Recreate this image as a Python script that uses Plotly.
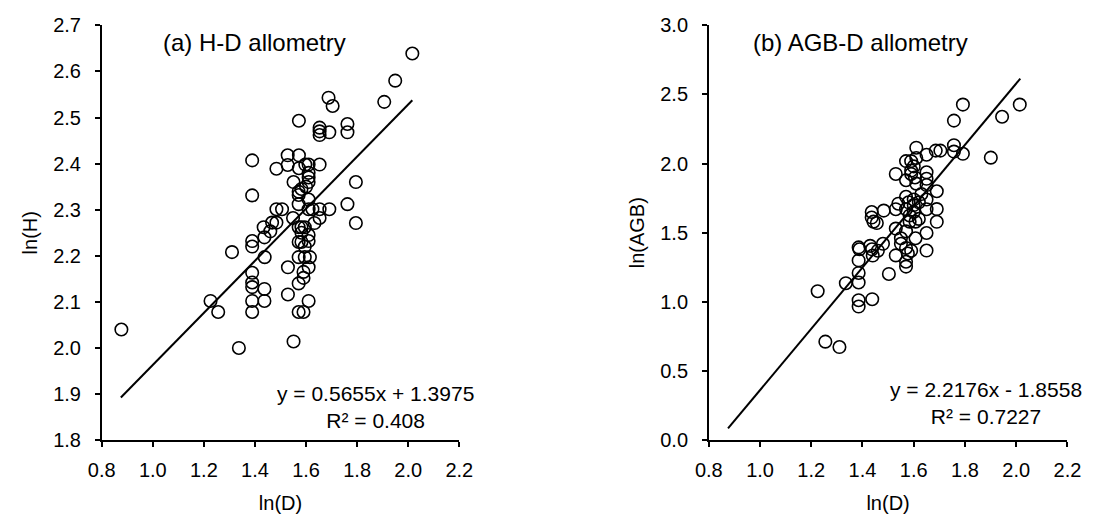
import plotly.graph_objects as go

# Panel (a): ln(D) vs ln(H)
lnD_a = [0.877, 2.016, 1.949, 1.906, 1.688, 1.704, 1.572, 1.653, 1.653, 1.653,
         1.691, 1.762, 1.762, 1.389, 1.528, 1.572, 1.528, 1.484, 1.597, 1.610,
         1.653, 1.572, 1.389, 1.551, 1.610, 1.610, 1.610, 1.600, 1.795, 1.571,
         1.571, 1.571, 1.582, 1.610, 1.484, 1.506, 1.610, 1.653, 1.691, 1.625,
         1.762, 1.795, 1.549, 1.653, 1.633, 1.434, 1.467, 1.484, 1.460, 1.437,
         1.389, 1.389, 1.310, 1.438, 1.571, 1.582, 1.595, 1.582, 1.571, 1.582,
         1.610, 1.610, 1.595, 1.571, 1.595, 1.615, 1.610, 1.590, 1.590, 1.571,
         1.529, 1.389, 1.389, 1.389, 1.437, 1.389, 1.437, 1.389, 1.529, 1.610,
         1.571, 1.590, 1.226, 1.256, 1.337, 1.551]
lnH_a = [2.040, 2.639, 2.580, 2.534, 2.543, 2.525, 2.493, 2.478, 2.470, 2.462,
         2.468, 2.486, 2.468, 2.407, 2.418, 2.418, 2.397, 2.389, 2.398, 2.398,
         2.398, 2.390, 2.331, 2.360, 2.380, 2.370, 2.360, 2.350, 2.360, 2.339,
         2.332, 2.312, 2.345, 2.322, 2.301, 2.301, 2.301, 2.301, 2.301, 2.301,
         2.312, 2.271, 2.282, 2.282, 2.271, 2.262, 2.272, 2.272, 2.253, 2.240,
         2.232, 2.220, 2.208, 2.197, 2.262, 2.262, 2.262, 2.250, 2.230, 2.230,
         2.232, 2.245, 2.220, 2.197, 2.197, 2.197, 2.175, 2.165, 2.152, 2.140,
         2.175, 2.163, 2.142, 2.132, 2.128, 2.102, 2.102, 2.078, 2.116, 2.102,
         2.078, 2.078, 2.102, 2.078, 2.000, 2.014]

# Panel (b): ln(D) vs ln(AGB)
lnD_b = [2.014, 1.945, 1.901, 1.792, 1.757, 1.757, 1.757, 1.792, 1.686, 1.704,
         1.610, 1.650, 1.610, 1.570, 1.590, 1.530, 1.570, 1.590, 1.590, 1.605,
         1.610, 1.600, 1.650, 1.650, 1.650, 1.690, 1.630, 1.690, 1.690, 1.650,
         1.650, 1.650, 1.650, 1.483, 1.436, 1.436, 1.443, 1.456, 1.530, 1.540,
         1.530, 1.570, 1.570, 1.584, 1.584, 1.570, 1.600, 1.600, 1.600, 1.607,
         1.607, 1.580, 1.620, 1.620, 1.550, 1.550, 1.570, 1.577, 1.570, 1.570,
         1.590, 1.530, 1.503, 1.385, 1.388, 1.385, 1.430, 1.437, 1.480, 1.460,
         1.440, 1.385, 1.385, 1.335, 1.385, 1.385, 1.438, 1.225, 1.255, 1.310]
lnAGB_b = [2.427, 2.339, 2.043, 2.427, 2.311, 2.133, 2.087, 2.071, 2.094, 2.094,
           2.115, 2.064, 2.041, 2.018, 2.018, 1.925, 1.880, 1.950, 1.925, 1.900,
           1.855, 1.980, 1.937, 1.890, 1.845, 1.800, 1.780, 1.671, 1.579, 1.670,
           1.740, 1.498, 1.371, 1.660, 1.650, 1.610, 1.580, 1.570, 1.670, 1.710,
           1.530, 1.760, 1.670, 1.625, 1.580, 1.510, 1.740, 1.700, 1.650, 1.580,
           1.460, 1.720, 1.720, 1.600, 1.460, 1.420, 1.390, 1.350, 1.290, 1.255,
           1.370, 1.336, 1.202, 1.394, 1.380, 1.300, 1.405, 1.380, 1.420, 1.370,
           1.335, 1.209, 1.140, 1.135, 1.012, 0.966, 1.019, 1.077, 0.712, 0.673]

# Fitted trend lines (from the chart's equations)
fit_a = (0.5655, 1.3975)
fit_b = (2.2176, -1.8558)
fit_x = [0.875, 2.016]

ticks_a_y = [1.8, 1.9, 2.0, 2.1, 2.2, 2.3, 2.4, 2.5, 2.6, 2.7]
ticks_b_y = [0.0, 0.5, 1.0, 1.5, 2.0, 2.5, 3.0]
ticks_x = [0.8, 1.0, 1.2, 1.4, 1.6, 1.8, 2.0, 2.2]

FONT = "Arial, Liberation Sans, sans-serif"
FS = 20
marker = dict(symbol="circle-open", size=12.5, color="black", line=dict(width=1.6, color="black"))

fig = go.Figure()
fig.add_trace(go.Scatter(x=lnD_a, y=lnH_a, mode="markers", marker=marker,
                         xaxis="x", yaxis="y", showlegend=False))
fig.add_trace(go.Scatter(x=fit_x, y=[fit_a[0] * v + fit_a[1] for v in fit_x], mode="lines",
                         line=dict(color="black", width=2), xaxis="x", yaxis="y", showlegend=False))
fig.add_trace(go.Scatter(x=lnD_b, y=lnAGB_b, mode="markers", marker=marker,
                         xaxis="x2", yaxis="y2", showlegend=False))
fig.add_trace(go.Scatter(x=fit_x, y=[fit_b[0] * v + fit_b[1] for v in fit_x], mode="lines",
                         line=dict(color="black", width=2), xaxis="x2", yaxis="y2", showlegend=False))

W, H = 1097, 529
ydom = [1 - 447.7 / H, 1 - 15 / H]
common_x = dict(range=[0.8, 2.2], tickvals=ticks_x, ticktext=[f"{v:.1f}" for v in ticks_x],
                showline=True, linecolor="black", linewidth=1.5, ticks="outside", ticklen=5,
                tickcolor="black", tickwidth=1.5, showgrid=False, zeroline=False,
                ticklabelstandoff=6,
                tickfont=dict(family=FONT, size=FS, color="black"),
                title=dict(text="ln(D)", font=dict(family=FONT, size=FS, color="black"), standoff=16))
common_y = dict(showline=True, linecolor="black", linewidth=1.5, ticks="outside", ticklen=5,
                tickcolor="black", tickwidth=1.5, showgrid=False, zeroline=False,
                ticklabelstandoff=10,
                tickfont=dict(family=FONT, size=FS, color="black"))

fig.update_layout(
    width=W, height=H, margin=dict(l=0, r=0, t=0, b=0),
    paper_bgcolor="white", plot_bgcolor="white",
    xaxis=dict(domain=[90 / W, 457 / W], anchor="y", **common_x),
    yaxis=dict(domain=ydom, anchor="x", range=[1.8, 2.7], tickvals=ticks_a_y,
               ticktext=[f"{v:.1f}" for v in ticks_a_y],
               title=dict(text="ln(H)", font=dict(family=FONT, size=FS, color="black"), standoff=10),
               **common_y),
    xaxis2=dict(domain=[713 / W, 1081 / W], anchor="y2", **common_x),
    yaxis2=dict(domain=ydom, anchor="x2", range=[0.0, 3.0], tickvals=ticks_b_y,
                ticktext=[f"{v:.1f}" for v in ticks_b_y],
                title=dict(text="ln(AGB)", font=dict(family=FONT, size=FS, color="black"), standoff=10),
                **common_y),
    annotations=[
        dict(text="(a) H-D allometry", x=1.034, y=2.662, xref="x", yref="y", xanchor="left",
             yanchor="middle", showarrow=False, font=dict(family=FONT, size=24, color="black")),
        dict(text="(b) AGB-D allometry", x=0.963, y=2.873, xref="x2", yref="y2", xanchor="left",
             yanchor="middle", showarrow=False, font=dict(family=FONT, size=24, color="black")),
        dict(text="y = 0.5655x + 1.3975<br>R² = 0.408", x=1.873, y=1.872, xref="x", yref="y",
             xanchor="center", yanchor="middle", align="center", showarrow=False,
             font=dict(family=FONT, size=21, color="black")),
        dict(text="y = 2.2176x - 1.8558<br>R² = 0.7227", x=1.881, y=0.268, xref="x2", yref="y2",
             xanchor="center", yanchor="middle", align="center", showarrow=False,
             font=dict(family=FONT, size=21, color="black")),
    ],
)

fig.write_html("out.html", config={"displayModeBar": False},
               post_script="document.body.style.margin='0';")
